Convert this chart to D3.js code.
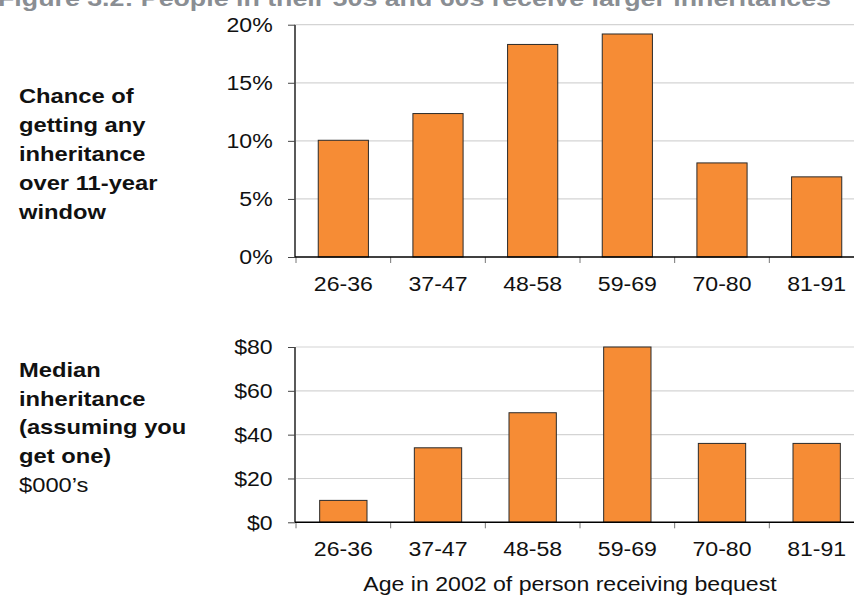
<!DOCTYPE html>
<html>
<head>
<meta charset="utf-8">
<script src="https://cdn.jsdelivr.net/npm/d3@7"></script>
<style>
  body { margin: 0; background: #fff; }
  svg { display: block; font-family: "Liberation Sans", Arial, sans-serif; }
</style>
</head>
<body>
<svg id="chart" width="854" height="595"></svg>
<script>
// age groups, shared by both panels
const ageGroups = ["26-36", "37-47", "48-58", "59-69", "70-80", "81-91"];
// chance of any inheritance over 11 years (%)
const chanceValues = [10.05, 12.35, 18.3, 19.2, 8.1, 6.9];
const chanceTicks = [0, 5, 10, 15, 20];
// median inheritance, $000's
const medianValues = [10, 34, 50, 80, 36, 36];
const medianTicks = [0, 20, 40, 60, 80];

const titleText = "Figure 3.2: People in their 50s and 60s receive larger inheritances";
const topLabel = ["Chance of", "getting any", "inheritance", "over 11-year", "window"];
const bottomLabel = ["Median", "inheritance", "(assuming you", "get one)", "$000\u2019s"];
const xTitle = "Age in 2002 of person receiving bequest";

const svg = d3.select("#chart");
const barColor = "#f68c35";
const stretch = 1.1;   // the source picture is a bit wider than tall

// text drawn slightly stretched sideways, like the original
function label(parent, x, y, str, opts = {}) {
    return parent.append("g")
        .attr("transform", `translate(${x},${y}) scale(${opts.sx || stretch},1)`)
        .append("text")
        .attr("text-anchor", opts.anchor || "start")
        .attr("font-size", opts.size || 21)
        .attr("font-weight", opts.weight || "normal")
        .attr("fill", opts.fill || "#111")
        .text(str);
}

// title sits mostly off the top of the picture
label(svg, 831, 6, titleText, {anchor: "end", size: 22.5, weight: "bold", fill: "#8a8e93", sx: 1.19});

function panel(values, ticks, fmt, yTop, yBottom, pad) {
    const x = d3.scaleBand().domain(ageGroups).range([296, 864])
        .paddingInner(pad).paddingOuter(pad / 2);
    const y = d3.scaleLinear().domain([ticks[0], ticks[ticks.length - 1]]).range([yBottom, yTop]);
    const g = svg.append("g");

    // gridlines
    g.selectAll(".grid").data(ticks.slice(1))
        .enter().append("line")
        .attr("x1", 296).attr("x2", 864)
        .attr("y1", d => y(d)).attr("y2", d => y(d))
        .attr("stroke", "#d4d4d4").attr("stroke-width", 1.2);

    // y axis
    const yAxis = g.append("g")
        .attr("transform", "translate(295,0)")
        .call(d3.axisLeft(y).tickValues(ticks).tickFormat(fmt).tickSize(7).tickPadding(13.3));
    yAxis.select(".domain").attr("stroke", "#000").attr("stroke-width", 1.3).attr("d", `M0,${yTop}V${yBottom}`);
    yAxis.selectAll(".tick line").attr("stroke", "#444");
    yAxis.selectAll("text")
        .attr("font-size", 21).attr("fill", "#111")
        .attr("font-family", "Liberation Sans, Arial, sans-serif")
        .attr("transform", `scale(${stretch},1)`);

    // bars
    g.selectAll(".bar").data(values)
        .enter().append("rect")
        .attr("x", (d, i) => x(ageGroups[i]))
        .attr("width", x.bandwidth())
        .attr("y", d => y(d))
        .attr("height", d => yBottom - y(d))
        .attr("fill", barColor)
        .attr("stroke", "#2a2a2a").attr("stroke-width", 1);

    // x axis
    const bounds = ageGroups.map(a => x(a) - x.step() * x.paddingInner() / 2);
    g.selectAll(".xtick").data(bounds)
        .enter().append("line")
        .attr("x1", d => d).attr("x2", d => d)
        .attr("y1", yBottom).attr("y2", yBottom + 6)
        .attr("stroke", "#777").attr("stroke-width", 1);
    g.append("line")
        .attr("x1", 295).attr("x2", 864)
        .attr("y1", yBottom).attr("y2", yBottom)
        .attr("stroke", "#000").attr("stroke-width", 1.5);
    ageGroups.forEach(a => {
        label(g, x(a) + x.bandwidth() / 2, yBottom + 34, a, {anchor: "middle"});
    });
}

panel(chanceValues, chanceTicks, d => d + "%", 24.7, 257, 0.47);
panel(medianValues, medianTicks, d => "$" + d, 347, 522.3, 0.5);

function sideLabel(lines, y0, boldCount) {
    lines.forEach((line, i) => {
        label(svg, 19, y0 + i * 28.8, line, {weight: i < boldCount ? "bold" : "normal", sx: 1.13});
    });
}
sideLabel(topLabel, 103.3, 5);
sideLabel(bottomLabel, 376.7, 4);

label(svg, 570, 591, xTitle, {anchor: "middle"});
</script>
</body>
</html>
